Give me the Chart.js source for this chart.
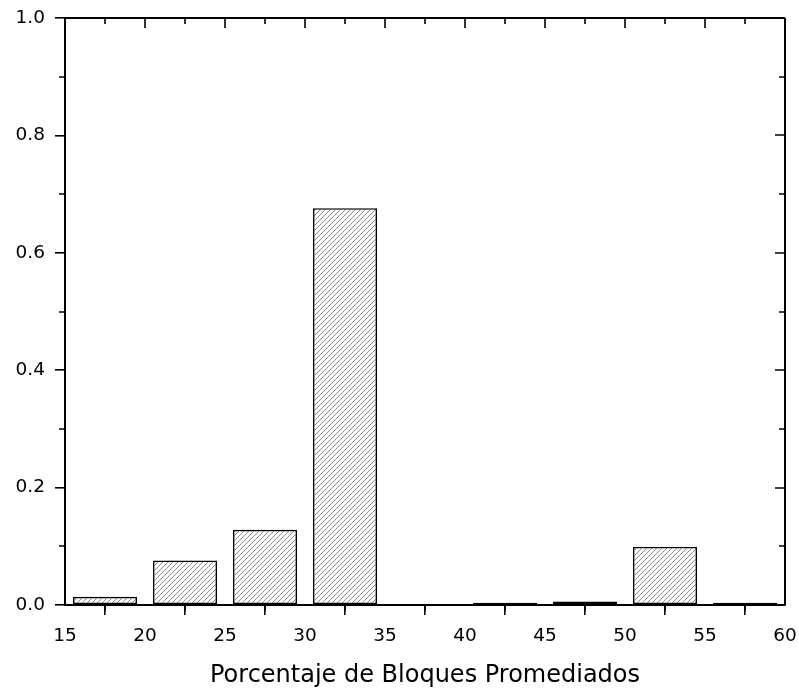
<!DOCTYPE html>
<html>
<head>
<meta charset="utf-8">
<script src="https://cdn.jsdelivr.net/npm/chart.js@4/dist/chart.umd.min.js"></script>
<style>
  html, body { margin: 0; padding: 0; background: #fff; }
  #wrap { width: 799px; height: 692px; }
</style>
</head>
<body>
<div id="wrap"><canvas id="hist"></canvas></div>
<script>
// bin centres (bins 15-20, 20-25, ... 55-60) and relative frequency
const binCenters = [17.5, 22.5, 27.5, 32.5, 37.5, 42.5, 47.5, 52.5, 57.5];
const frequencies = [0.014, 0.076, 0.128, 0.676, 0, 0.004, 0.006, 0.099, 0.004];
const xTitle = 'Porcentaje de Bloques Promediados';

// diagonal hatch like the original plot
function hatch() {
  const c = document.createElement('canvas');
  c.width = 5; c.height = 5;
  const g = c.getContext('2d');
  g.fillStyle = '#fff';
  g.fillRect(0, 0, 5, 5);
  g.fillStyle = '#8a8a8a';
  for (let i = 0; i < 5; i++) g.fillRect(i, 4 - i, 1, 1);
  return g.createPattern(c, 'repeat');
}

// minor ticks + mirrored top / right axis (ticks pointing in)
const frame = {
  id: 'frame',
  afterDraw(chart) {
    const ctx = chart.ctx, a = chart.chartArea;
    const x = chart.scales.x, y = chart.scales.y;
    ctx.save();
    ctx.strokeStyle = '#000';
    ctx.lineWidth = 2;
    ctx.beginPath();
    ctx.moveTo(a.left, a.top); ctx.lineTo(a.right, a.top);
    ctx.moveTo(a.right, a.top); ctx.lineTo(a.right, a.bottom);
    ctx.stroke();
    ctx.lineWidth = 1.6;
    ctx.beginPath();
    for (let v = 15; v <= 60; v += 2.5) {
      const px = Math.round(x.getPixelForValue(v));
      const major = v % 5 === 0;
      const len = major ? 10 : 6;
      ctx.moveTo(px, a.top); ctx.lineTo(px, a.top + len);
      if (!major) { ctx.moveTo(px, a.bottom); ctx.lineTo(px, a.bottom + len); }
    }
    for (let i = 0; i <= 10; i++) {
      const py = Math.round(y.getPixelForValue(i / 10));
      const major = i % 2 === 0;
      const len = major ? 10 : 6;
      ctx.moveTo(a.right, py); ctx.lineTo(a.right - len, py);
      if (!major) { ctx.moveTo(a.left, py); ctx.lineTo(a.left - len, py); }
    }
    ctx.stroke();
    ctx.restore();
  }
};

const font = { family: "'DejaVu Sans', sans-serif", size: 18.5 };

new Chart(document.getElementById('hist'), {
  type: 'bar',
  data: {
    datasets: [{
      data: binCenters.map((c, i) => ({ x: c, y: frequencies[i] })),
      backgroundColor: hatch(),
      borderColor: '#000',
      borderWidth: 1.6,
      borderSkipped: false,
      barPercentage: 0.8,
      categoryPercentage: 1.0
    }]
  },
  options: {
    responsive: true,
    maintainAspectRatio: false,
    animation: false,
    layout: { padding: { top: 18, right: 14, left: 0, bottom: 0 } },
    plugins: { legend: { display: false }, tooltip: { enabled: false } },
    scales: {
      x: {
        type: 'linear',
        min: 15, max: 60,
        offset: false,
        afterFit(s) { s.height = 87; s.paddingLeft = 0; s.paddingRight = 0; },
        ticks: { stepSize: 5, color: '#000', font: font, padding: 10, maxRotation: 0 },
        grid: { drawOnChartArea: false, color: '#000', lineWidth: 1.6, tickLength: 10 },
        border: { color: '#000', width: 2 },
        title: {
          display: true, text: xTitle, color: '#000',
          font: { family: font.family, size: 24 },
          padding: { top: 0, bottom: 2 }
        }
      },
      y: {
        min: 0, max: 1,
        afterFit(s) { s.width = 65; s.paddingTop = 0; s.paddingBottom = 0; },
        ticks: { stepSize: 0.2, color: '#000', font: font, padding: 10,
                 callback: v => v.toFixed(1) },
        grid: { drawOnChartArea: false, color: '#000', lineWidth: 1.6, tickLength: 10 },
        border: { color: '#000', width: 2 }
      }
    }
  },
  plugins: [frame]
});
</script>
</body>
</html>
